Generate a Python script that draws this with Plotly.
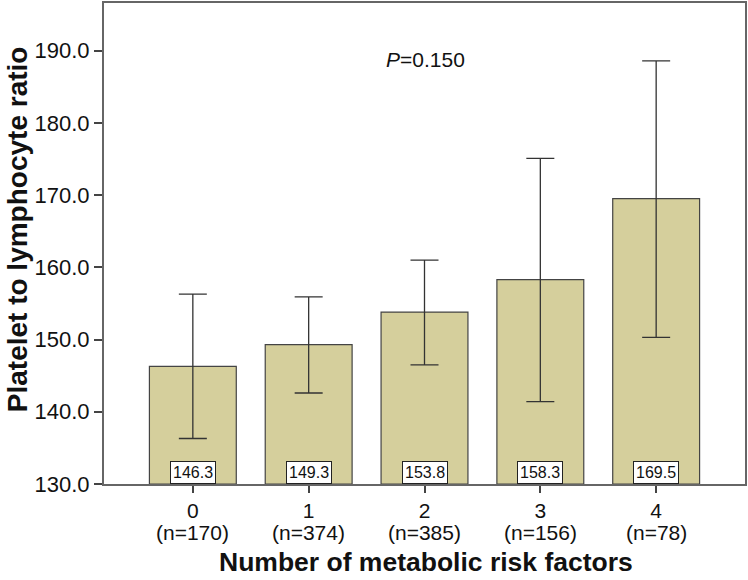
import plotly.graph_objects as go

categories = [0, 1, 2, 3, 4]
n_labels = ["(n=170)", "(n=374)", "(n=385)", "(n=156)", "(n=78)"]
means = [146.3, 149.3, 153.8, 158.3, 169.5]
ci_upper = [156.3, 155.9, 161.0, 175.1, 188.6]
ci_lower = [136.3, 142.6, 146.5, 141.4, 150.3]
y_ticks = [130, 140, 150, 160, 170, 180, 190]

font_family = "Arial, Liberation Sans, sans-serif"
err_plus = [u - m for u, m in zip(ci_upper, means)]
err_minus = [m - l for m, l in zip(means, ci_lower)]

fig = go.Figure()
fig.add_trace(go.Bar(
    x=categories, y=[m - 130 for m in means], base=130, width=0.75,
    marker=dict(color="#d5cf9c", line=dict(color="#444444", width=1.2)),
    error_y=dict(type="data", array=err_plus, arrayminus=err_minus,
                 color="#333333", thickness=1.3, width=14),
    showlegend=False, hoverinfo="skip",
))

for c, m in zip(categories, means):
    fig.add_annotation(x=c, y=130, xref="x", yref="y", yanchor="bottom",
                       text=f"{m:.1f}", showarrow=False,
                       font=dict(family=font_family, size=16, color="#111"),
                       bgcolor="white", bordercolor="#222", borderwidth=1,
                       borderpad=2)

# sample size labels under category ticks
for c, n in zip(categories, n_labels):
    fig.add_annotation(x=c, y=-0.101, xref="x", yref="paper",
                       xanchor="center", yanchor="middle",
                       text=n, showarrow=False,
                       font=dict(family=font_family, size=21, color="#111"))

fig.add_annotation(x=0.502, y=0.911, xref="paper", yref="paper",
                   text="<i>P</i>=0.150", showarrow=False,
                   font=dict(family=font_family, size=21, color="#111"))

# axis titles
fig.add_annotation(x=0.5016, y=-0.163, xref="paper", yref="paper",
                   xanchor="center", yanchor="middle",
                   text="<b>Number of metabolic risk factors</b>", showarrow=False,
                   font=dict(family=font_family, size=26.5, color="#111"))
fig.add_annotation(x=-0.1355, y=0.530, xref="paper", yref="paper",
                   xanchor="center", yanchor="middle", textangle=-90,
                   text="<b>Platelet to lymphocyte ratio</b>", showarrow=False,
                   font=dict(family=font_family, size=28, color="#111"))

fig.update_layout(
    width=748, height=580,
    margin=dict(l=104, r=2, t=1, b=96),
    plot_bgcolor="white", paper_bgcolor="white",
    font=dict(family=font_family, color="#111"),
    bargap=0.25,
)
fig.update_xaxes(
    range=[-0.767, 4.767], tickvals=categories,
    ticktext=[str(c) for c in categories],
    tickfont=dict(size=21, family=font_family, color="#111"),
    ticks="outside", ticklen=7, tickcolor="#444", tickwidth=1.5,
    showline=True, linecolor="#666", linewidth=2, mirror=True,
    showgrid=False, zeroline=False,
)
fig.update_yaxes(
    range=[130, 196.6], tickvals=y_ticks,
    ticktext=[f"{v:.1f}" for v in y_ticks],
    tickfont=dict(size=22, family=font_family, color="#111"),
    ticks="outside", ticklen=8, tickcolor="#444", tickwidth=1.5,
    showline=True, linecolor="#666", linewidth=2, mirror=True,
    showgrid=False, zeroline=False,
)

fig.write_html("out.html", config={"displayModeBar": False},
               post_script="document.body.style.margin='0';document.body.style.overflow='hidden';")
